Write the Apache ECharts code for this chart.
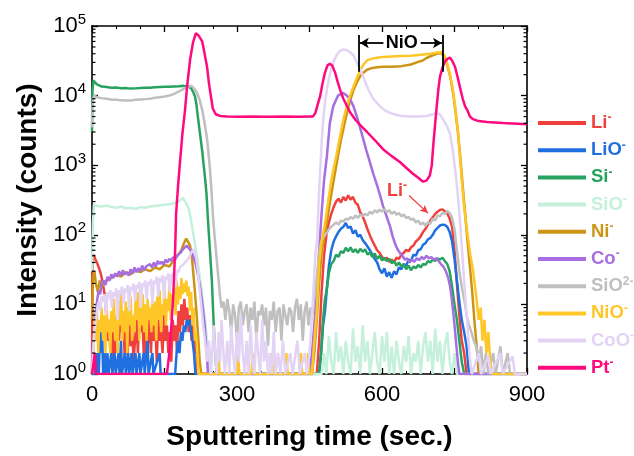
<!DOCTYPE html>
<html><head><meta charset="utf-8">
<script src="https://cdn.jsdelivr.net/npm/echarts@6/dist/echarts.min.js"></script>
<style>html,body{margin:0;padding:0;background:#fff}#c{width:634px;height:456px}</style>
</head><body><div id="c"></div>
<script>
const FONT = '"Liberation Sans", Arial, sans-serif';
const seriesNames = ['Li-','LiO-','Si-','SiO-','Ni-','Co-','SiO2-','NiO-','CoO-','Pt-'];
const seriesColors = ['#f0403c','#1f6fe0','#27a35f','#c4f0dc','#cc9414','#a66ee0','#bfbfbf','#ffc627','#e3d3f5','#ff0a7e'];
const legendLabels = {'Li-':'Li{s|-}','LiO-':'LiO{s|-}','Si-':'Si{s|-}','SiO-':'SiO{s|-}','Ni-':'Ni{s|-}','Co-':'Co{s|-}','SiO2-':'SiO{s|2-}','NiO-':'NiO{s|-}','CoO-':'CoO{s|-}','Pt-':'Pt{s|-}'};
const xTicks = [0,300,600,900];
const yDecades = [1,10,100,1000,10000,100000];
const minorMantissas = [2,3,4,5,6,7,8,9];

const li = [[0,1],[1,42],[3,52],[6,46],[10,40],[14,34],[18,28],[22,21],[26,14],[29,8],[32,3],[35,6],[38,2],[41,5],[44,1.5],[47,4],[50,2],[53,7],[56,3],[59,11],[62,4],[65,6],[68,1.5],[71,4],[74,2],[77,7],[80,2.5],[83,5],[86,1.5],[89,3],[92,6],[95,2],[98,9],[101,4],[104,7],[107,2],[110,5],[113,1.5],[116,3],[119,6],[122,2],[125,8],[128,3],[131,5],[134,1.5],[137,6],[140,3],[143,4],[146,2],[149,7],[152,3],[155,5],[158,2],[161,4],[164,1.5],[167,6],[170,3],[173,5],[176,2],[179,8],[182,4],[185,10],[188,5],[191,12],[194,6],[197,9],[200,4],[203,7],[206,3],[209,5],[212,2],[215,3],[218,1],[465,1],[470,3],[475,15],[480,50],[485,100],[490,150],[495,200],[500,250],[505,300],[510,330],[515,290],[520,350],[525,310],[530,370],[535,320],[540,350],[545,290],[550,270],[555,210],[560,185],[565,150],[570,120],[575,98],[580,82],[585,70],[590,60],[595,55],[600,48],[605,44],[610,47],[615,41],[620,44],[625,40],[630,47],[635,45],[640,52],[645,55],[650,61],[655,58],[660,66],[665,70],[670,80],[675,86],[680,95],[685,110],[690,122],[695,140],[700,160],[705,178],[710,200],[715,215],[720,228],[725,232],[730,218],[735,205],[740,170],[745,130],[750,60],[755,20],[760,7],[765,3],[770,2],[775,1],[900,1]];

const lio = [[0,1],[5,1],[7,2],[9,1],[12,2],[14,1],[17,5],[19,2],[21,4],[23,1],[26,2],[28,1],[32,2],[34,1],[40,2],[42,1],[47,2],[49,1],[55,2],[57,1],[60,3],[62,1],[68,2],[70,1],[75,2],[77,1],[82,2],[84,1],[90,2],[92,1],[98,2],[100,1],[107,2],[109,1],[115,3],[117,1],[125,2],[127,1],[140,2],[142,1],[172,1],[175,2],[178,3],[181,2],[184,4],[187,3],[190,5],[193,4],[196,6],[199,5],[202,6],[205,4],[208,3],[211,2],[214,1],[470,1],[474,2],[478,5],[482,8],[486,17],[490,35],[495,60],[500,80],[505,95],[510,110],[515,122],[520,130],[525,148],[530,125],[535,132],[540,104],[545,116],[550,94],[555,100],[560,84],[565,76],[570,68],[575,60],[580,52],[585,45],[590,40],[595,32],[600,28],[605,33],[610,25],[615,29],[620,24],[625,30],[630,27],[635,34],[640,32],[645,38],[650,36],[655,44],[660,42],[665,52],[670,50],[675,60],[680,62],[685,72],[690,76],[695,86],[700,90],[705,100],[710,116],[715,126],[720,136],[725,140],[730,138],[735,130],[740,110],[745,80],[750,45],[755,22],[760,11],[765,6],[770,4],[775,2.5],[780,1],[900,1]];

const si = [[0,3000],[1,12000],[3,16500],[6,15500],[10,14500],[15,14000],[20,13500],[30,13300],[40,13000],[50,13100],[60,12800],[70,12900],[80,12600],[90,12700],[100,12900],[110,13000],[120,13000],[130,13200],[140,13300],[150,13400],[160,13400],[170,13500],[180,13600],[190,13800],[200,13500],[206,12500],[210,11000],[213,9800],[216,7500],[219,5000],[223,3000],[228,1600],[231,1000],[234,640],[237,380],[240,160],[244,60],[248,22],[251,7],[254,2.4],[258,1],[470,1],[474,2],[478,6],[482,12],[486,17],[490,28],[495,38],[500,42],[505,52],[510,48],[515,58],[520,55],[525,65],[530,58],[535,66],[540,56],[545,62],[550,55],[555,63],[560,57],[565,62],[570,52],[575,56],[580,48],[585,54],[590,45],[595,50],[600,43],[605,47],[610,42],[615,45],[620,39],[625,42],[630,36],[635,40],[640,35],[645,38],[650,32],[655,36],[660,31],[665,35],[670,33],[675,37],[680,34],[685,38],[690,37],[695,42],[700,40],[705,44],[710,42],[715,46],[720,44],[725,47],[730,42],[735,38],[740,30],[745,18],[750,10],[755,6],[760,3],[765,1.5],[770,1],[900,1]];

const sio = [[0,30],[2,150],[4,270],[10,260],[20,255],[30,265],[40,250],[50,245],[60,255],[70,240],[80,245],[90,235],[100,250],[110,245],[120,255],[130,260],[140,265],[150,270],[160,275],[170,285],[180,300],[188,340],[195,280],[200,240],[205,160],[210,100],[215,60],[220,35],[225,20],[230,10],[234,6],[238,3],[242,1],[475,1],[480,2],[485,1],[490,3.5],[495,1.5],[500,1],[505,4],[510,1.5],[515,2.5],[520,1],[525,3],[530,1.5],[535,1],[540,4.5],[545,1.5],[550,2.5],[555,1],[560,5],[565,1.5],[570,3],[575,1],[580,2],[585,4],[590,1.5],[595,1],[600,3.5],[605,1.5],[610,4],[615,1],[620,2.5],[625,1],[630,3],[635,1.5],[640,1],[645,2.5],[650,1.5],[655,3.5],[660,1],[665,2],[670,1.5],[675,3],[680,1],[685,2.5],[690,4],[695,1.5],[700,3],[705,1],[710,4.5],[715,1.5],[720,3],[725,1],[730,2.5],[735,4],[740,1.5],[745,1],[750,2],[755,1],[900,1]];

const ni = [[0,6],[2,25],[5,30],[8,20],[12,15],[16,22],[20,18],[25,20],[30,22],[40,24],[50,27],[60,25],[70,29],[80,27],[90,31],[100,29],[110,32],[120,30],[130,34],[140,32],[150,37],[160,35],[170,44],[180,54],[185,60],[190,75],[195,88],[199,92],[203,70],[207,45],[211,22],[215,10],[219,4],[223,1.5],[226,1],[455,1],[460,2],[465,6],[470,20],[475,55],[480,90],[485,140],[490,230],[495,380],[500,600],[505,950],[510,1500],[515,2300],[520,3300],[527,5500],[534,8500],[541,12000],[548,15500],[555,19000],[562,21500],[569,23500],[580,25000],[590,25500],[602,26000],[620,26000],[640,26500],[660,28000],[672,30000],[684,32000],[693,35000],[705,38000],[714,40000],[722,41000],[728,37000],[734,29000],[741,19000],[747,11000],[752,6000],[757,3000],[762,1300],[767,500],[772,200],[777,80],[782,35],[787,14],[792,5],[796,2.5],[800,1],[900,1]];

const co = [[0,1],[2,3],[5,4],[8,8],[11,12],[14,16],[17,14],[20,20],[24,22],[28,19],[32,25],[36,22],[40,27],[44,24],[48,28],[52,25],[56,30],[60,26],[64,31],[68,27],[72,29],[76,26],[80,32],[84,28],[88,34],[92,29],[96,33],[100,30],[104,36],[108,31],[112,35],[116,33],[120,38],[124,34],[128,40],[132,35],[136,42],[140,38],[144,41],[148,37],[152,44],[156,40],[160,45],[164,42],[168,48],[172,44],[176,50],[180,53],[184,56],[188,62],[192,66],[196,70],[200,68],[204,60],[208,52],[212,44],[215,37],[219,27],[223,19],[227,12],[230,8],[233,5],[236,2.7],[240,1],[450,1],[455,2],[460,5],[465,15],[470,60],[475,200],[480,600],[486,1350],[492,4000],[499,7000],[509,10000],[519,11000],[527,10000],[534,8900],[541,7000],[548,5000],[555,3400],[561,2400],[568,1600],[575,1100],[582,750],[590,510],[596,370],[602,260],[610,180],[617,130],[622,95],[627,75],[632,62],[637,55],[642,50],[647,44],[652,46],[657,40],[662,44],[667,41],[672,46],[677,43],[682,48],[687,45],[692,50],[697,46],[702,48],[707,44],[712,46],[717,42],[722,38],[727,35],[732,30],[737,24],[741,18],[745,11],[749,6],[753,3],[757,1.5],[760,1],[900,1]];

const sio2 = [[0,3500],[2,9000],[5,10000],[10,9500],[20,9200],[30,9000],[40,8800],[50,8700],[60,8600],[70,8500],[80,8500],[90,8700],[100,8800],[110,8900],[120,9000],[130,9300],[140,9500],[150,9700],[160,10000],[170,10600],[180,11500],[190,12500],[200,13500],[206,13800],[212,12500],[217,11000],[222,9000],[228,6300],[233,4000],[238,2400],[241,1500],[244,890],[247,450],[250,200],[254,90],[259,37],[265,13],[268,9],[272,11],[276,6],[280,12],[284,8],[288,4],[292,10],[296,7],[300,3],[304,9],[308,11],[312,5],[316,8],[320,10],[324,4],[328,9],[332,6],[336,11],[340,3],[344,8],[348,7],[352,10],[356,5],[360,9],[364,2.5],[368,8],[372,6],[376,11],[380,4],[384,8],[388,9],[392,3],[396,10],[400,7],[404,5],[408,9],[412,8],[416,4],[420,9],[424,12],[428,6],[432,10],[436,3],[440,8],[444,11],[448,5],[452,9],[456,7],[460,12],[464,20],[468,40],[472,70],[476,85],[480,95],[485,105],[490,120],[495,130],[500,140],[505,150],[510,140],[515,160],[520,155],[525,170],[530,165],[535,180],[540,170],[545,190],[550,175],[555,195],[560,185],[565,200],[570,190],[575,215],[580,200],[585,225],[590,210],[595,230],[600,215],[605,235],[610,210],[615,225],[620,200],[625,215],[630,195],[635,205],[640,185],[645,195],[650,175],[655,180],[660,165],[665,170],[670,150],[675,160],[680,140],[685,150],[690,135],[695,150],[700,145],[705,170],[710,160],[715,190],[720,185],[725,205],[730,200],[735,220],[740,205],[745,175],[750,120],[755,60],[760,30],[765,18],[770,12],[775,7],[780,5],[785,4],[790,3],[795,2.5],[800,1.5],[805,2.5],[810,1],[815,2],[820,1],[830,2],[835,1],[845,2.5],[850,1],[860,2],[865,1],[900,1]];

const nio = [[0,1],[3,2],[5,6],[8,3],[10,8],[13,2],[15,6],[18,4],[20,9],[23,3],[25,7],[28,2],[30,10],[33,4],[35,6],[38,2],[40,8],[43,4],[45,12],[48,3],[50,7],[53,2],[55,10],[58,5],[60,14],[63,3],[65,8],[68,4],[70,11],[73,2],[75,9],[78,5],[80,13],[83,3],[85,7],[88,4],[90,12],[93,6],[95,15],[98,3],[100,9],[103,5],[105,14],[108,4],[110,10],[113,3],[115,12],[118,6],[120,9],[123,4],[125,15],[128,5],[130,11],[133,3],[135,13],[138,6],[140,16],[143,4],[145,10],[148,7],[150,18],[153,5],[155,12],[158,8],[160,20],[163,6],[165,14],[168,9],[170,17],[173,7],[175,22],[178,10],[180,18],[183,12],[185,24],[188,14],[190,20],[193,15],[195,22],[198,13],[200,18],[203,8],[205,15],[208,5],[210,9],[213,3],[215,4],[218,2],[220,1],[260,1],[262,2],[264,1],[300,1],[302,2],[305,1],[330,1],[332,2],[336,1],[370,1],[372,2],[375,1],[400,1],[402,2],[405,1],[430,1],[432,2],[435,1],[445,1],[447,2],[450,1],[455,1],[460,3],[465,8],[470,40],[475,80],[480,120],[485,200],[490,350],[495,600],[500,900],[505,1300],[510,2000],[515,3000],[520,4500],[527,7000],[534,10000],[541,13500],[548,18000],[555,23000],[562,28000],[569,32000],[580,34000],[590,35000],[602,36000],[620,36500],[640,37000],[660,37500],[680,38500],[700,40000],[715,41500],[724,42000],[730,37000],[735,29000],[741,20000],[747,12000],[752,6500],[757,3200],[761,1400],[765,600],[770,250],[776,115],[782,55],[788,32],[794,15],[800,6],[804,9],[808,3],[812,6],[816,2],[820,4],[824,1.5],[828,1],[900,1]];

const coo = [[0,1],[2,2],[5,4],[8,6],[11,9],[14,11],[17,8],[20,13],[23,11],[26,14],[29,7],[32,15],[35,12],[38,16],[41,9],[44,15],[47,13],[50,17],[53,6],[56,16],[59,14],[62,18],[65,10],[68,17],[71,15],[74,19],[77,8],[80,18],[83,16],[86,20],[89,11],[92,19],[95,17],[98,21],[101,9],[104,20],[107,18],[110,22],[113,12],[116,21],[119,19],[122,23],[125,10],[128,22],[131,20],[134,25],[137,13],[140,24],[143,21],[146,26],[149,12],[152,25],[155,23],[158,28],[161,15],[164,27],[167,25],[170,30],[173,18],[176,31],[179,29],[182,34],[185,33],[190,38],[195,42],[200,46],[205,55],[210,62],[214,55],[218,35],[222,18],[226,10],[230,5],[234,3],[238,1.5],[242,3],[246,1],[248,1],[252,5],[255,2],[258,1],[262,4],[265,1.5],[268,6],[272,2],[275,1],[280,3],[284,1],[288,5],[292,2],[296,1],[300,4],[304,1.5],[308,7],[312,2],[316,1],[320,3],[324,1],[328,5],[332,1.5],[336,1],[340,4],[344,2],[348,1],[352,6],[356,1.5],[360,3],[364,1],[368,2],[372,1],[376,4],[380,1],[385,2],[390,1],[395,3],[400,1],[410,2],[415,1],[425,3],[430,1],[440,2],[445,1],[450,2],[454,5],[458,15],[462,50],[466,90],[469,300],[472,800],[475,2000],[478,4200],[482,8000],[486,12300],[492,20000],[499,30000],[506,38000],[513,44000],[520,46000],[527,45000],[534,42000],[541,38000],[548,30000],[555,24000],[562,18000],[569,13500],[575,11000],[582,9000],[590,7800],[596,7000],[605,6200],[615,5700],[625,5400],[640,5100],[658,5000],[675,5000],[693,5100],[705,5400],[714,5700],[720,5300],[726,4600],[733,3800],[741,2800],[747,1550],[751,900],[755,510],[758,300],[761,171],[765,70],[768,33],[772,14],[776,6],[779,3],[782,1.6],[786,1],[800,2],[805,1],[820,1.8],[825,1],[845,2],[850,1],[870,1.8],[875,1],[900,1]];

const pt = [[0,1],[4,1],[6,2],[8,1],[150,1],[155,1],[160,2],[165,6],[168,13],[172,60],[174,200],[178,500],[182,1100],[187,2800],[192,5800],[197,14000],[203,33000],[209,58000],[215,79000],[221,72000],[228,60000],[233,40000],[238,26000],[242,15000],[246,9800],[250,6500],[256,5400],[265,5100],[280,5000],[300,4950],[330,5000],[360,4950],[400,5000],[430,4950],[450,5000],[457,5000],[462,5600],[467,7500],[472,9800],[477,15000],[482,21400],[487,27000],[492,28700],[497,27000],[503,21400],[508,16000],[513,12300],[520,9000],[527,7200],[534,5750],[545,4500],[556,3700],[569,3000],[585,2300],[602,1700],[620,1350],[637,1110],[650,920],[664,755],[675,660],[685,580],[692,600],[699,710],[703,1000],[706,1900],[710,4000],[714,8000],[717,13000],[720,18700],[725,25000],[730,30700],[736,34000],[741,35000],[746,31000],[751,26000],[756,19000],[761,13500],[767,9000],[772,7000],[776,6300],[782,5000],[788,4600],[800,4300],[817,4170],[850,4050],[880,3950],[900,3870]];

const seriesData = [li, lio, si, sio, ni, co, sio2, nio, coo, pt];

// annotations (data coordinates)
const niOBracketT = [552, 726];
const niOBracketY = [74000, 22000];
const niOArrowY = 57000;
const niOArrowFrom = [603, 680];
const niOLabelPos = [641, 57000];
const liLabelPos = [631, 420];
const liArrow = [[656, 366], [695, 205]];

const minorVals = [];
yDecades.slice(0, -1).forEach(d => minorMantissas.forEach(m => minorVals.push([0, d * m])));

const chart = echarts.init(document.getElementById('c'), null, {renderer: 'canvas'});

const series = seriesNames.map((n, i) => ({
  name: n, type: 'line', data: seriesData[i], showSymbol: false, symbol: 'none',
  lineStyle: {color: seriesColors[i], width: 2.5}, itemStyle: {color: seriesColors[i]},
  animation: false, z: 2 + i * 0.01, clip: true
}));

series.push({
  name: 'annot', type: 'line', data: [], animation: false, z: 5,
  markLine: {
    silent: true, animation: false, symbol: ['none', 'none'],
    lineStyle: {color: '#000', width: 1.8, type: 'solid'},
    label: {show: false},
    data: [
      [{coord: [niOBracketT[0], niOBracketY[0]]}, {coord: [niOBracketT[0], niOBracketY[1]]}],
      [{coord: [niOBracketT[1], niOBracketY[0]]}, {coord: [niOBracketT[1], niOBracketY[1]]}],
      [{coord: [niOArrowFrom[0], niOArrowY], symbol: 'none'}, {coord: [niOBracketT[0] + 2, niOArrowY], symbol: 'arrow', symbolSize: [8, 9]}],
      [{coord: [niOArrowFrom[1], niOArrowY], symbol: 'none'}, {coord: [niOBracketT[1] - 2, niOArrowY], symbol: 'arrow', symbolSize: [8, 9]}],
      [{coord: liArrow[0], symbol: 'none', lineStyle: {color: '#f0403c', width: 1.3}}, {coord: liArrow[1], symbol: 'arrow', symbolSize: [6, 8], lineStyle: {color: '#f0403c', width: 1.3}}]
    ]
  },
  markPoint: {
    silent: true, animation: false, symbol: 'circle', symbolSize: 1,
    itemStyle: {color: 'rgba(0,0,0,0)'},
    data: [
      {coord: niOLabelPos, label: {show: true, position: 'inside', formatter: 'NiO', color: '#000', fontSize: 18, fontWeight: 'bold', fontFamily: FONT}},
      {coord: liLabelPos, label: {show: true, position: 'inside', formatter: 'Li{s|-}', color: '#f0403c', fontSize: 18, fontWeight: 'bold', fontFamily: FONT, lineHeight: 24,
        rich: {s: {fontSize: 12, fontWeight: 'bold', verticalAlign: 'top', lineHeight: 12, color: '#f0403c', fontFamily: FONT}}}}
    ]
  }
});

series.push({
  name: 'minorTicks', type: 'custom', data: minorVals, silent: true, animation: false, z: 6,
  encode: {x: 0, y: 1},
  renderItem: function (params, api) {
    const v = api.value(1);
    const pl = api.coord([0, v]);
    const pr = api.coord([900, v]);
    return {type: 'group', children: [
      {type: 'line', shape: {x1: pl[0], y1: pl[1], x2: pl[0] + 3.5, y2: pl[1]}, style: {stroke: '#000', lineWidth: 1.2}},
      {type: 'line', shape: {x1: pr[0], y1: pr[1], x2: pr[0] - 3.5, y2: pr[1]}, style: {stroke: '#000', lineWidth: 1.2}}
    ]};
  }
});

const option = {
  backgroundColor: '#fff',
  animation: false,
  grid: {left: 92, right: 107, top: 26, bottom: 79, containLabel: false},
  legend: {
    orient: 'vertical', left: 533, top: 107, itemWidth: 48, itemHeight: 4, itemGap: 5.2, icon: 'rect',
    selectedMode: false,
    data: seriesNames.map((n, i) => ({name: n, textStyle: {color: seriesColors[i]}})),
    formatter: n => legendLabels[n],
    textStyle: {fontFamily: FONT, fontSize: 18.5, fontWeight: 'bold', lineHeight: 22,
      rich: {s: {fontSize: 12, fontWeight: 'bold', verticalAlign: 'top', lineHeight: 12, fontFamily: FONT}}}
  },
  xAxis: [{
    type: 'value', min: 0, max: 900, interval: 150, position: 'bottom',
    name: 'Sputtering time (sec.)', nameLocation: 'middle', nameGap: 49,
    nameTextStyle: {fontFamily: FONT, fontSize: 28, fontWeight: 'bold', color: '#000'},
    axisLine: {show: true, onZero: false, lineStyle: {color: '#000', width: 1.6}},
    axisTick: {show: true, inside: true, length: 6, lineStyle: {color: '#000', width: 1.3}},
    minorTick: {show: true, splitNumber: 3, length: 3, lineStyle: {color: '#000', width: 1}},
    splitLine: {show: false},
    axisLabel: {margin: 10, fontFamily: FONT, fontSize: 22, color: '#000',
      formatter: v => (xTicks.indexOf(v) >= 0 ? String(v) : '')}
  }, {
    type: 'value', min: 0, max: 900, interval: 150, position: 'top',
    axisLine: {show: true, onZero: false, lineStyle: {color: '#000', width: 1.6}},
    axisTick: {show: true, inside: true, length: 6, lineStyle: {color: '#000', width: 1.3}},
    minorTick: {show: true, splitNumber: 3, length: 3, lineStyle: {color: '#000', width: 1}},
    splitLine: {show: false}, axisLabel: {show: false}
  }],
  yAxis: [{
    type: 'log', logBase: 10, min: 1, max: 100000, position: 'left',
    name: 'Intensity (counts)', nameLocation: 'middle', nameGap: 47,
    nameTextStyle: {fontFamily: FONT, fontSize: 28, fontWeight: 'bold', color: '#000'},
    axisLine: {show: true, onZero: false, lineStyle: {color: '#000', width: 1.6}},
    axisTick: {show: true, inside: true, length: 6, lineStyle: {color: '#000', width: 1.3}},
    splitLine: {show: false},
    axisLabel: {margin: 6, color: '#000', fontFamily: FONT,
      formatter: v => '{b|10}{s|' + Math.round(Math.log10(v)) + '}',
      rich: {b: {fontSize: 22, lineHeight: 28, fontFamily: FONT, color: '#000'},
             s: {fontSize: 15, lineHeight: 15, verticalAlign: 'top', fontFamily: FONT, color: '#000'}}}
  }, {
    type: 'log', logBase: 10, min: 1, max: 100000, position: 'right',
    axisLine: {show: true, onZero: false, lineStyle: {color: '#000', width: 1.6}},
    axisTick: {show: true, inside: true, length: 6, lineStyle: {color: '#000', width: 1.3}},
    splitLine: {show: false}, axisLabel: {show: false}
  }],
  series: series
};
chart.setOption(option);
</script>
</body></html>
